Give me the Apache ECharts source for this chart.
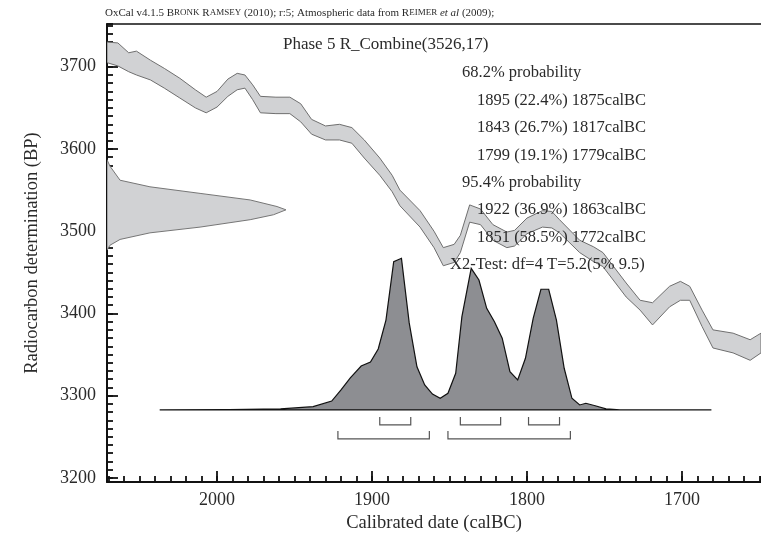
<!DOCTYPE html>
<html>
<head>
<meta charset="utf-8">
<script src="https://cdn.jsdelivr.net/npm/echarts@6/dist/echarts.min.js"></script>
<style>
html, body { margin: 0; padding: 0; background: #fff; }
#chart { width: 761px; height: 546px; }
</style>
</head>
<body>
<div id="chart"></div>
<script>
// calibration curve band (calBC / BP), upper and lower edge
var curveYears = [2071, 2064, 2057, 2052, 2043, 2034, 2024, 2014, 2007, 2000, 1993, 1987, 1982, 1977, 1972, 1962, 1953,
    1946, 1939, 1930, 1921, 1913, 1905, 1895, 1887, 1882, 1869, 1860, 1854, 1847, 1843, 1837, 1830, 1822, 1813, 1808,
    1800, 1790, 1784, 1779, 1766, 1757, 1751, 1736, 1727, 1719, 1708, 1701, 1695, 1687, 1680, 1667, 1656, 1649];
var curveUpper = [3730, 3729, 3717, 3719, 3708, 3698, 3686, 3672, 3663, 3670, 3685, 3692, 3690, 3678, 3664, 3663, 3663,
    3655, 3636, 3628, 3630, 3626, 3611, 3589, 3568, 3550, 3525, 3500, 3480, 3484, 3495, 3532, 3527, 3508, 3499, 3501,
    3516, 3525, 3524, 3514, 3489, 3481, 3474, 3437, 3416, 3413, 3433, 3439, 3433, 3404, 3380, 3376, 3368, 3376];
var curveLower = [3705, 3701, 3694, 3690, 3684, 3674, 3662, 3650, 3644, 3651, 3664, 3672, 3674, 3660, 3644, 3643, 3643,
    3633, 3618, 3611, 3611, 3607, 3589, 3568, 3548, 3531, 3505, 3480, 3458, 3462, 3474, 3511, 3508, 3489, 3480, 3482,
    3497, 3505, 3504, 3498, 3474, 3463, 3457, 3420, 3404, 3386, 3408, 3416, 3416, 3384, 3358, 3352, 3343, 3352];

// R_Combine(3526,17) measurement, drawn along the BP axis
var measBP =      [3587, 3579, 3562, 3554, 3546, 3538, 3530, 3526, 3520, 3514, 3505, 3498, 3490, 3483, 3477];
var measDensity = [0,    0.017, 0.073, 0.24, 0.52, 0.80, 0.95, 1.0, 0.93, 0.80, 0.52, 0.24, 0.073, 0.017, 0];

// calibrated posterior (relative probability)
var postYears = [2037, 1992, 1959, 1938, 1926, 1920, 1914, 1907, 1901, 1896, 1891, 1886, 1881, 1876, 1871, 1866, 1861,
    1856, 1851, 1846, 1842, 1836, 1831, 1826, 1821, 1816, 1811, 1806, 1801, 1796, 1791, 1786, 1781, 1776, 1771, 1766,
    1762, 1756, 1749, 1740, 1681];
var postProb = [0, 0.003, 0.007, 0.022, 0.059, 0.132, 0.211, 0.29, 0.316, 0.402, 0.593, 0.978, 1.0, 0.574, 0.285, 0.165,
    0.105, 0.077, 0.11, 0.242, 0.615, 0.934, 0.857, 0.67, 0.582, 0.473, 0.252, 0.198, 0.341, 0.604, 0.796, 0.796, 0.593,
    0.275, 0.077, 0.033, 0.044, 0.028, 0.007, 0, 0];

// ranges [from, to, %]
var range68 = [[1895, 1875, 22.4], [1843, 1817, 26.7], [1799, 1779, 19.1]];
var range95 = [[1922, 1863, 36.9], [1851, 1772, 58.5]];

var serif = '"Liberation Serif", "DejaVu Serif", serif';
var txtColor = '#2a2a2a';

var chart = echarts.init(document.getElementById('chart'));

function bandItem(params, api) {
    var pts = [];
    for (var i = 0; i < curveYears.length; i++) pts.push(api.coord([curveYears[i], curveUpper[i]]));
    for (var j = curveYears.length - 1; j >= 0; j--) pts.push(api.coord([curveYears[j], curveLower[j]]));
    return {
        type: 'polygon', shape: { points: pts },
        style: { fill: '#d1d2d4', stroke: '#6f6f6f', lineWidth: 1 }
    };
}

function measItem(params, api) {
    var pts = [];
    for (var i = 0; i < measBP.length; i++) pts.push(api.coord([measDensity[i], measBP[i]]));
    return {
        type: 'polygon', shape: { points: pts },
        style: { fill: '#d1d2d4', stroke: '#767676', lineWidth: 1 }
    };
}

function postItem(params, api) {
    var pts = [];
    for (var i = 0; i < postYears.length; i++) pts.push(api.coord([postYears[i], postProb[i]]));
    return {
        type: 'polygon', shape: { points: pts },
        style: { fill: '#8d8e92', stroke: '#111', lineWidth: 1.2, lineJoin: 'miter' }
    };
}

function bracketItem(params, api) {
    var rows = [[range68, 15], [range95, 29]];
    var kids = [];
    rows.forEach(function (row) {
        row[0].forEach(function (r) {
            var a = api.coord([r[0], 0]);
            var b = api.coord([r[1], 0]);
            var y = a[1] + row[1];
            kids.push({
                type: 'polyline',
                shape: { points: [[a[0], y - 8], [a[0], y], [b[0], y], [b[0], y - 8]] },
                style: { stroke: '#555', lineWidth: 1.2, fill: null }
            });
        });
    });
    return { type: 'group', children: kids };
}

var textLines = [];
var lineY = 73;
var step = 27.4;
textLines.push({ x: 462, text: '68.2% probability' });
range68.forEach(function (r) { textLines.push({ x: 477, text: r[0] + ' (' + r[2] + '%) ' + r[1] + 'calBC' }); });
textLines.push({ x: 462, text: '95.4% probability' });
range95.forEach(function (r) { textLines.push({ x: 477, text: r[0] + ' (' + r[2] + '%) ' + r[1] + 'calBC' }); });
textLines.push({ x: 450, text: 'X2-Test: df=4 T=5.2(5% 9.5)' });

var graphics = [
    {
        type: 'text', x: 105, y: 13, z: 100,
        style: {
            text: 'OxCal v4.1.5 B{sc|RONK} R{sc|AMSEY} (2010); r:5; Atmospheric data from R{sc|EIMER} {it|et al} (2009);',
            font: '11px ' + serif, fill: txtColor, verticalAlign: 'middle',
            rich: {
                sc: { fontSize: 9, fontFamily: serif, fill: txtColor, verticalAlign: 'bottom', padding: [0, 0, 1, 0] },
                it: { fontSize: 11, fontStyle: 'italic', fontFamily: serif, fill: txtColor }
            }
        }
    },
    {
        type: 'text', x: 283, y: 45, z: 100,
        style: { text: 'Phase 5 R_Combine(3526,17)', font: '17px ' + serif, fill: txtColor, verticalAlign: 'middle' }
    }
];
textLines.forEach(function (t, i) {
    graphics.push({
        type: 'text', x: t.x, y: lineY + i * step, z: 100,
        style: { text: t.text, font: '16.5px ' + serif, fill: txtColor, verticalAlign: 'middle' }
    });
});

function plain(v) { return String(v); }

var option = {
    animation: false,
    backgroundColor: '#fff',
    grid: { left: 107, right: 0, top: 24, bottom: 64, containLabel: false, outerBoundsMode: 'none' },
    xAxis: [
        {
            type: 'value', inverse: true, min: 1649, max: 2071, position: 'bottom',
            minInterval: 100, maxInterval: 100,
            name: 'Calibrated date (calBC)', nameLocation: 'middle', nameGap: 32,
            nameTextStyle: { fontFamily: serif, fontSize: 18.5, color: txtColor },
            axisLine: { show: true, onZero: false, lineStyle: { color: '#111', width: 2 } },
            axisTick: { show: true, inside: true, length: 11, lineStyle: { color: '#111', width: 1.8 } },
            axisLabel: { fontFamily: serif, fontSize: 18, color: txtColor, margin: 9, formatter: plain,
                showMinLabel: false, showMaxLabel: false },
            splitLine: { show: false }
        },
        {
            type: 'value', inverse: true, min: 1649, max: 2071, position: 'bottom',
            minInterval: 10, maxInterval: 10,
            axisLine: { show: false, onZero: false },
            axisTick: { show: true, inside: true, length: 6, lineStyle: { color: '#111', width: 1.8 } },
            axisLabel: { show: false },
            splitLine: { show: false }
        },
        {
            type: 'value', show: false, min: 0, max: 3.654, position: 'bottom'
        },
        {
            type: 'value', min: 0, max: 1, position: 'top',
            axisLine: { show: true, onZero: false, lineStyle: { color: '#111', width: 1.5 } },
            axisTick: { show: false }, axisLabel: { show: false }, splitLine: { show: false }
        }
    ],
    yAxis: [
        {
            type: 'value', min: 3195, max: 3752, position: 'left',
            minInterval: 100, maxInterval: 100,
            name: 'Radiocarbon determination (BP)', nameLocation: 'middle', nameGap: 65,
            nameTextStyle: { fontFamily: serif, fontSize: 18.5, color: txtColor },
            axisLine: { show: true, onZero: false, lineStyle: { color: '#111', width: 2 } },
            axisTick: { show: true, inside: true, length: 11, lineStyle: { color: '#111', width: 1.8 } },
            axisLabel: { fontFamily: serif, fontSize: 18, color: txtColor, margin: 11, formatter: plain,
                showMinLabel: false, showMaxLabel: false },
            splitLine: { show: false }
        },
        {
            type: 'value', min: 3195, max: 3752, position: 'left',
            minInterval: 10, maxInterval: 10,
            axisLine: { show: false, onZero: false },
            axisTick: { show: true, inside: true, length: 6, lineStyle: { color: '#111', width: 1.8 } },
            axisLabel: { show: false },
            splitLine: { show: false }
        },
        {
            type: 'value', show: false, min: -0.475, max: 2.545, position: 'left'
        }
    ],
    graphic: graphics,
    series: [
        { type: 'custom', xAxisIndex: 0, yAxisIndex: 0, data: [0], renderItem: bandItem, clip: true, silent: true, z: 2 },
        { type: 'custom', xAxisIndex: 2, yAxisIndex: 0, data: [0], renderItem: measItem, clip: true, silent: true, z: 3 },
        { type: 'custom', xAxisIndex: 0, yAxisIndex: 2, data: [0], renderItem: postItem, clip: true, silent: true, z: 4 },
        { type: 'custom', xAxisIndex: 0, yAxisIndex: 2, data: [0], renderItem: bracketItem, silent: true, z: 4 }
    ]
};

chart.setOption(option);
</script>
</body>
</html>
